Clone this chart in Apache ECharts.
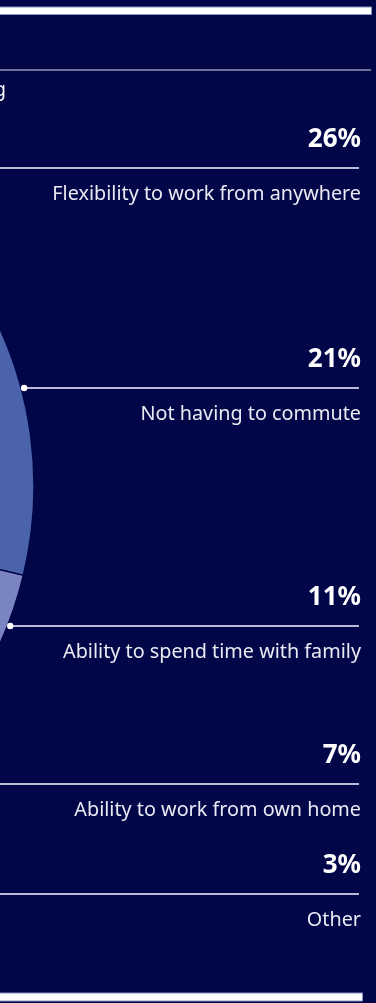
<!DOCTYPE html>
<html>
<head>
<meta charset="utf-8">
<script src="https://cdn.jsdelivr.net/npm/echarts@6/dist/echarts.min.js"></script>
<style>
  html, body { margin: 0; padding: 0; background: #010649; }
  #chart { width: 376px; height: 1003px; }
</style>
</head>
<body>
<div id="chart"></div>
<script>
// Survey answers: what people value most about remote work
const categories = [
  'Flexibility to work from anywhere',
  'Not having to commute',
  'Ability to spend time with family',
  'Ability to work from own home',
  'Other'
];
const shares = [26, 21, 11, 7, 3];
const sliceColors = ['#2a3d8f', '#4b63ab', '#7a84c0', '#a3a9d6', '#c8cbe6'];

// Layout of the label rows (vertical position of each leader line)
const rowLineY = [168, 388, 626, 784, 894];
const labelRight = 361;
const lineRight = 359;

// Pie geometry: a large disc whose right rim enters the view
const pieCx = -346, pieCy = 486, pieR = 380;
// angle (deg, clockwise from 3 o'clock) of the boundary after the second slice
const boundaryAngle = 13.6;

const total = shares.reduce((a, b) => a + b, 0);
const startAngle = (shares[0] + shares[1]) / total * 360 - boundaryAngle;

const FONT = '"Noto Sans", "Open Sans", sans-serif';

function rimX(y) {
  const dy = y - pieCy;
  return Math.abs(dy) < pieR ? pieCx + Math.sqrt(pieR * pieR - dy * dy) + 3 : pieCx;
}

const dots = rowLineY
  .map(y => ({ x: rimX(y), y: y }))
  .filter(p => p.x > -5)
  .map(p => ({
    type: 'circle',
    shape: { cx: p.x, cy: p.y, r: 3.2 },
    style: { fill: '#ffffff' },
    z: 20
  }));

const chart = echarts.init(document.getElementById('chart'), null, { renderer: 'canvas' });

chart.setOption({
  backgroundColor: '#010649',
  animation: false,
  textStyle: { fontFamily: FONT },
  graphic: [
    {
      type: 'rect',
      shape: { x: -4, y: 7, width: 375.5, height: 7.5 },
      style: { fill: '#ffffff', stroke: '#8c90c4', lineWidth: 1 },
      z: 10
    },
    {
      type: 'line',
      shape: { x1: 0, y1: 70, x2: 371, y2: 70 },
      style: { stroke: '#6e7199', lineWidth: 2 },
      z: 10
    },
    {
      type: 'text',
      style: {
        x: 6, y: 91,
        text: 'What workers value most about remote working',
        fill: '#ffffff',
        font: '19px ' + FONT,
        align: 'right',
        verticalAlign: 'middle'
      },
      z: 10
    },
    {
      type: 'rect',
      shape: { x: -4, y: 993, width: 366.5, height: 8 },
      style: { fill: '#ffffff', stroke: '#8c90c4', lineWidth: 1 },
      z: 10
    }
  ].concat(dots),
  series: [
    {
      type: 'pie',
      center: [pieCx, pieCy],
      radius: pieR,
      startAngle: startAngle,
      clockwise: true,
      avoidLabelOverlap: false,
      itemStyle: { borderColor: '#010649', borderWidth: 1.5 },
      data: categories.map((name, i) => ({
        name: name,
        value: shares[i],
        itemStyle: { color: sliceColors[i] }
      })),
      label: {
        show: true,
        position: 'outside',
        overflow: 'none',
        formatter: '{pct|{c}%}\n{name|{b}}',
        rich: {
          pct: {
            color: '#ffffff',
            fontSize: 26,
            fontWeight: 'bold',
            lineHeight: 52,
            align: 'right',
            fontFamily: FONT
          },
          name: {
            color: '#eaeaf3',
            fontSize: 19.8,
            lineHeight: 56,
            align: 'right',
            fontFamily: FONT
          }
        }
      },
      labelLine: {
        show: true,
        length: 10,
        length2: 10,
        smooth: false,
        lineStyle: { color: '#b9bad3', width: 2 }
      },
      labelLayout: function (p) {
        const y = rowLineY[p.dataIndex];
        const x0 = rimX(y);
        return {
          x: labelRight,
          y: y,
          align: 'right',
          verticalAlign: 'middle',
          hideOverlap: false,
          labelLinePoints: [[x0, y], [(x0 + lineRight) / 2, y], [lineRight, y]]
        };
      }
    }
  ]
});
</script>
</body>
</html>
